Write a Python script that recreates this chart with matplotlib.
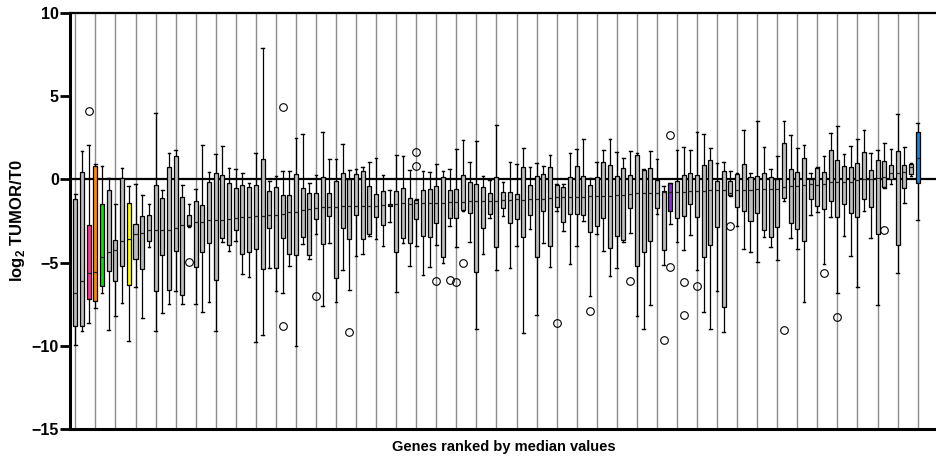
import matplotlib
matplotlib.use('Agg')
from matplotlib import pyplot as plt

# five-number summaries per gene, ranked by median (left to right)
whisker_hi = [-0.88, 1.72, 2.08, 0.92, 0.82, 0.06, -1.46, 0.68, -0.38, -0.3,
              -0.92, -1.46, 4.0, -0.62, 1.56, 1.74, -0.36, -1.5, -0.56, 2.04,
              0.44, 1.5, 1.98, 0.7, 0.62, 0.36, -0.2, 1.56, 7.92, -0.12,
              0.22, 0.48, 0.52, 2.5, 2.74, -0.2, 0.24, 2.86, 1.22, 1.22,
              2.14, 0.54, 0.62, 0.74, 1.06, 1.28, 0.26, -0.62, 1.44, 1.42,
              0.54, -1.16, 0.5, 0.42, 0.9, 0.52, 0.64, 1.84, 2.34, 1.06,
              2.28, 0.2, -0.04, 3.26, -0.18, 1.02, 0.94, 1.9, 0.76, 1.0,
              0.82, 1.48, -0.26, -0.28, 1.6, 1.84, 2.44, 0.1, 1.06, 1.78,
              2.4, 1.66, 1.28, 1.7, 1.56, 0.64, 1.68, 1.24, -0.4, -0.2,
              1.76, 1.96, 1.74, 2.82, 2.7, 1.9, 0.96, 1.02, 0.5, 0.4,
              2.96, 0.4, 3.5, 1.96, 0.6, 1.42, 3.5, 2.64, 1.86, 2.04,
              0.36, 0.76, 1.38, 2.76, 3.18, 1.52, 1.98, 2.42, 2.94, 1.56,
              1.76, 2.2, 1.84, 3.9, 1.96, 0.96, 3.38]
q3 = [-1.18, 0.46, -2.74, 0.82, -1.5, -0.66, -3.66, 0.08, -1.4, -2.66,
      -2.2, -2.12, -0.36, -1.1, 0.72, 1.38, -1.08, -2.16, -1.32, -1.54,
      -0.18, 0.38, 0.28, -0.24, -0.54, -0.36, -0.46, -0.36, 1.22, -0.7,
      -0.48, -0.92, -0.96, 0.34, -0.5, -0.84, -0.82, 0.14, -0.8, -0.12,
      0.4, 0.0, 0.34, 0.52, -0.42, -0.9, -0.72, -1.5, -0.68, -0.54,
      -1.14, -1.26, -0.66, -0.56, -0.38, 0.12, -0.64, -0.56, 0.28, -0.18,
      -0.26, -0.46, -0.82, 0.16, -0.74, -0.74, -0.88, 0.72, -0.32, 0.18,
      0.34, 0.76, -0.32, -0.46, 0.14, 0.8, 0.2, -0.36, 0.12, 1.06,
      0.84, 0.18, 0.68, 0.26, 1.46, 0.54, 0.7, -0.06, -0.7, -0.22,
      -0.12, 0.24, 0.36, 0.24, 0.86, 1.14, -0.12, 0.48, -0.1, 0.3,
      0.9, 0.14, 0.18, 0.4, 0.12, 0.0, 2.16, 0.64, 0.44, 1.3,
      0.04, 0.68, 0.42, 1.78, 1.16, 0.82, 0.76, 0.98, 1.62, 0.54,
      1.14, 1.08, 0.84, 1.72, 0.84, 0.94, 2.84]
median = [-6.84, -6.08, -5.6, -5.58, -4.64, -4.36, -4.24, -3.68, -3.6, -3.28,
          -3.24, -3.06, -3.04, -3.04, -3.04, -2.9, -2.76, -2.76, -2.58, -2.56,
          -2.46, -2.46, -2.44, -2.36, -2.34, -2.26, -2.24, -2.22, -2.2, -2.16,
          -2.16, -2.1, -1.96, -1.94, -1.82, -1.8, -1.74, -1.68, -1.64, -1.64,
          -1.6, -1.58, -1.58, -1.58, -1.58, -1.58, -1.56, -1.56, -1.48, -1.44,
          -1.46, -1.44, -1.44, -1.44, -1.44, -1.42, -1.36, -1.36, -1.34, -1.32,
          -1.3, -1.3, -1.3, -1.28, -1.26, -1.26, -1.2, -1.24, -1.2, -1.2,
          -1.18, -1.12, -1.08, -1.08, -1.08, -1.08, -1.08, -1.02, -1.02, -0.98,
          -0.98, -0.96, -0.96, -0.88, -0.84, -0.84, -0.84, -0.84, -0.78, -0.78,
          -0.74, -0.74, -0.72, -0.72, -0.68, -0.66, -0.66, -0.64, -0.8, -0.62,
          -0.62, -0.62, -0.58, -0.58, -0.58, -0.56, -0.46, -0.42, -0.38, -0.36,
          -0.3, -0.32, -0.28, -0.18, -0.18, -0.18, -0.14, -0.02, 0.0, 0.0,
          0.1, 0.16, 0.4, 0.4, 0.42, 0.76, 1.26]
q1 = [-8.78, -8.78, -7.2, -7.3, -6.4, -5.5, -6.12, -5.2, -6.36, -4.76,
      -5.4, -3.68, -6.7, -4.54, -6.62, -4.28, -6.94, -2.82, -5.28, -4.36,
      -3.8, -6.02, -3.5, -3.96, -3.04, -4.46, -4.38, -4.2, -5.36, -2.94,
      -5.34, -3.5, -4.5, -4.56, -3.48, -4.54, -2.4, -3.9, -2.2, -5.94,
      -2.94, -3.58, -2.12, -3.6, -3.3, -2.28, -2.76, -1.62, -4.36, -3.5,
      -3.84, -2.36, -3.42, -3.46, -2.6, -4.64, -2.32, -2.32, -1.84, -2.02,
      -5.58, -2.92, -2.08, -4.08, -1.74, -2.62, -2.4, -3.46, -2.16, -4.66,
      -1.9, -4.02, -1.68, -2.56, -2.08, -2.1, -2.16, -3.16, -2.82, -2.32,
      -4.1, -3.42, -3.64, -1.72, -5.22, -4.38, -3.72, -1.74, -4.24, -1.92,
      -2.34, -2.2, -1.5, -2.26, -4.68, -3.94, -2.84, -7.68, -0.95, -1.64,
      -1.9, -2.52, -2.04, -3.04, -3.46, -2.84, -1.14, -2.62, -3.0, -3.72,
      -1.2, -1.6, -1.8, -1.32, -2.26, -1.46, -2.02, -2.28, -1.16, -1.66,
      -3.28, -0.46, 0.04, -3.96, -0.5, 0.3, -0.22]
whisker_lo = [-9.94, -9.1, -8.64, -7.74, -6.84, -9.04, -8.2, -7.42, -9.72, -6.44,
              -8.32, -4.06, -9.14, -8.04, -7.48, -6.68, -7.48, -2.88, -7.48, -7.94,
              -7.38, -9.1, -3.76, -4.28, -3.7, -5.7, -5.84, -9.8, -9.36, -5.34,
              -6.7, -6.8, -5.18, -10.0, -3.88, -4.76, -3.28, -7.58, -3.82, -7.38,
              -5.44, -6.64, -4.6, -4.5, -3.4, -3.58, -4.02, -2.54, -6.76, -3.84,
              -5.22, -4.02, -5.74, -5.24, -3.92, -5.04, -2.78, -4.04, -1.88, -3.78,
              -8.98, -4.5, -2.34, -5.46, -2.18, -5.3, -3.98, -9.22, -3.0, -8.14,
              -3.84, -5.28, -1.88, -3.1, -5.08, -4.02, -2.5, -7.0, -3.3, -4.3,
              -5.82, -5.34, -3.78, -3.2, -8.18, -8.98, -7.54, -2.1, -5.12, -2.68,
              -3.78, -4.22, -3.36, -5.44, -7.96, -9.02, -6.72, -9.18, -1.0, -2.78,
              -4.18, -4.38, -4.94, -3.48, -4.04, -4.82, -1.28, -3.52, -4.16, -7.38,
              -2.14, -1.98, -5.06, -2.24, -6.84, -3.4, -4.6, -6.44, -1.92, -3.52,
              -7.56, -0.5, -0.26, -5.6, -1.4, 0.22, -2.42]

# outliers: gene rank -> values
outliers = {3: [4.1], 18: [-4.96], 32: [4.36, -8.78], 37: [-7.0], 42: [-9.2],
            52: [1.64, 0.78], 55: [-6.12], 57: [-6.04], 58: [-6.16], 59: [-5.02],
            73: [-8.6], 78: [-7.88], 84: [-6.1], 89: [-9.68], 90: [2.64, -5.28],
            92: [-6.18, -8.14], 94: [-6.38], 99: [-2.78], 107: [-9.06],
            113: [-5.6], 115: [-8.28], 122: [-3.06]}

highlight = {3: '#ff3399', 4: '#ff8c00', 5: '#00e600', 9: '#ffff00',
             90: '#8a2be2', 127: '#0a8ae6'}

plt.rcParams['font.family'] = ['Liberation Sans', 'DejaVu Sans']
plt.rcParams['mathtext.fontset'] = 'custom'
plt.rcParams['mathtext.bf'] = 'Liberation Sans:bold'

n = len(median)
stats = []
for i in range(n):
    stats.append({'med': median[i], 'q1': q1[i], 'q3': q3[i],
                  'whislo': whisker_lo[i], 'whishi': whisker_hi[i],
                  'fliers': outliers.get(i + 1, [])})

fig = plt.figure(figsize=(9.37, 4.62), dpi=100)
ax = fig.add_axes([0.0747, 0.0714, 0.9253, 0.9005])

for p in range(1, n + 1, 3):
    ax.axvline(p, color='#8c8c8c', lw=1.0, zorder=0)
ax.axhline(0, color='black', lw=1.6, zorder=1)

bp = ax.bxp(stats, positions=range(1, n + 1), widths=0.6, capwidths=0.4,
            patch_artist=True, manage_ticks=False,
            boxprops=dict(facecolor='#bdbdbd', edgecolor='black', lw=0.9),
            medianprops=dict(color='#222222', lw=0.9),
            whiskerprops=dict(color='black', lw=0.9),
            capprops=dict(color='black', lw=1.0),
            flierprops=dict(marker='o', markerfacecolor='none',
                            markeredgecolor='black', markersize=5.5, mew=0.8))
for k, col in highlight.items():
    bp['boxes'][k - 1].set_facecolor(col)

ax.set_xlim(0.2, 129.9)
ax.set_ylim(-15, 10)
ax.set_yticks([-15, -10, -5, 0, 5, 10])
ax.set_xticks([])
ax.tick_params(axis='y', length=7, width=2, labelsize=11.5, pad=1)
for lab in ax.get_yticklabels():
    lab.set_fontweight('bold')
ax.spines['right'].set_visible(False)
ax.spines['left'].set_linewidth(2.2)
ax.spines['bottom'].set_linewidth(2.2)
ax.spines['top'].set_linewidth(1.6)

ax.set_ylabel(r'log$_\mathbf{2}$ TUMOR/T0', fontsize=12, fontweight='bold', labelpad=3)
ax.set_xlabel('Genes ranked by median values', fontsize=10.5, fontweight='bold', labelpad=8)

fig.savefig('out.png', dpi=100)
